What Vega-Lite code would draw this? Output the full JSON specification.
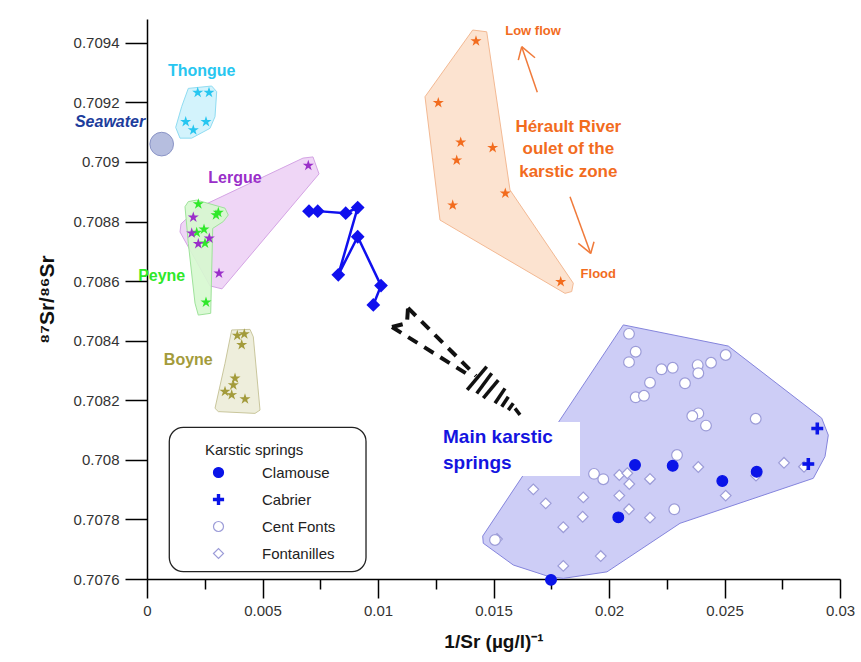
{
  "$schema": "https://vega.github.io/schema/vega-lite/v6.json",
  "width": 693,
  "height": 560,
  "autosize": {"type": "none"},
  "padding": {"left": 147, "top": 19, "right": 21, "bottom": 83},
  "background": "#ffffff",
  "config": {
    "view": {"stroke": null},
    "font": "Liberation Sans",
    "legend": {"orient": "none"}
  },
  "datasets": {
    "hulls": [
      {"g": "Thongue", "o": 0, "x": 0.001788, "y": 0.709247},
      {"g": "Thongue", "o": 1, "x": 0.002801, "y": 0.709255},
      {"g": "Thongue", "o": 2, "x": 0.003017, "y": 0.709236},
      {"g": "Thongue", "o": 3, "x": 0.002944, "y": 0.709152},
      {"g": "Thongue", "o": 4, "x": 0.002727, "y": 0.709113},
      {"g": "Thongue", "o": 5, "x": 0.001935, "y": 0.70908},
      {"g": "Thongue", "o": 6, "x": 0.001429, "y": 0.70908},
      {"g": "Thongue", "o": 7, "x": 0.001242, "y": 0.709116},
      {"g": "Thongue", "o": 8, "x": 0.001502, "y": 0.709186},
      {"g": "Lergue", "o": 0, "x": 0.002208, "y": 0.708846},
      {"g": "Lergue", "o": 1, "x": 0.006753, "y": 0.709013},
      {"g": "Lergue", "o": 2, "x": 0.007186, "y": 0.709017},
      {"g": "Lergue", "o": 3, "x": 0.007446, "y": 0.70896},
      {"g": "Lergue", "o": 4, "x": 0.003247, "y": 0.708574},
      {"g": "Lergue", "o": 5, "x": 0.002727, "y": 0.708584},
      {"g": "Lergue", "o": 6, "x": 0.001429, "y": 0.708765},
      {"g": "Lergue", "o": 7, "x": 0.001472, "y": 0.708792},
      {"g": "Peyne", "o": 0, "x": 0.001788, "y": 0.708867},
      {"g": "Peyne", "o": 1, "x": 0.002152, "y": 0.708872},
      {"g": "Peyne", "o": 2, "x": 0.003377, "y": 0.708845},
      {"g": "Peyne", "o": 3, "x": 0.003519, "y": 0.708822},
      {"g": "Peyne", "o": 4, "x": 0.003303, "y": 0.7088},
      {"g": "Peyne", "o": 5, "x": 0.002844, "y": 0.708777},
      {"g": "Peyne", "o": 6, "x": 0.002758, "y": 0.708492},
      {"g": "Peyne", "o": 7, "x": 0.002221, "y": 0.708486},
      {"g": "Peyne", "o": 8, "x": 0.002078, "y": 0.708526},
      {"g": "Peyne", "o": 9, "x": 0.001788, "y": 0.708727},
      {"g": "Peyne", "o": 10, "x": 0.001645, "y": 0.70885},
      {"g": "Boyne", "o": 0, "x": 0.003667, "y": 0.708436},
      {"g": "Boyne", "o": 1, "x": 0.004459, "y": 0.708438},
      {"g": "Boyne", "o": 2, "x": 0.004602, "y": 0.708413},
      {"g": "Boyne", "o": 3, "x": 0.004892, "y": 0.708167},
      {"g": "Boyne", "o": 4, "x": 0.004675, "y": 0.708156},
      {"g": "Boyne", "o": 5, "x": 0.003087, "y": 0.708162},
      {"g": "Boyne", "o": 6, "x": 0.002944, "y": 0.708173},
      {"g": "Boyne", "o": 7, "x": 0.003377, "y": 0.708324},
      {"g": "Herault", "o": 0, "x": 0.0141, "y": 0.709443},
      {"g": "Herault", "o": 1, "x": 0.014706, "y": 0.709437},
      {"g": "Herault", "o": 2, "x": 0.015714, "y": 0.708906},
      {"g": "Herault", "o": 3, "x": 0.018455, "y": 0.708593},
      {"g": "Herault", "o": 4, "x": 0.018385, "y": 0.708565},
      {"g": "Herault", "o": 5, "x": 0.018095, "y": 0.708559},
      {"g": "Herault", "o": 6, "x": 0.012684, "y": 0.708805},
      {"g": "Herault", "o": 7, "x": 0.012035, "y": 0.709219},
      {"g": "Main", "o": 0, "x": 0.020619, "y": 0.708453},
      {"g": "Main", "o": 1, "x": 0.025165, "y": 0.708382},
      {"g": "Main", "o": 2, "x": 0.029208, "y": 0.70814},
      {"g": "Main", "o": 3, "x": 0.029494, "y": 0.708083},
      {"g": "Main", "o": 4, "x": 0.029351, "y": 0.708011},
      {"g": "Main", "o": 5, "x": 0.028844, "y": 0.707938},
      {"g": "Main", "o": 6, "x": 0.023074, "y": 0.707787},
      {"g": "Main", "o": 7, "x": 0.019913, "y": 0.707624},
      {"g": "Main", "o": 8, "x": 0.018022, "y": 0.707602},
      {"g": "Main", "o": 9, "x": 0.017446, "y": 0.707607},
      {"g": "Main", "o": 10, "x": 0.015857, "y": 0.707647},
      {"g": "Main", "o": 11, "x": 0.014558, "y": 0.70772},
      {"g": "Main", "o": 12, "x": 0.014532, "y": 0.707744},
      {"g": "Main", "o": 13, "x": 0.017879, "y": 0.708134}
    ],
    "stars": [
      {"g": "Thongue", "x": 0.002195, "y": 0.709233},
      {"g": "Thongue", "x": 0.002684, "y": 0.709233},
      {"g": "Thongue", "x": 0.001675, "y": 0.709135},
      {"g": "Thongue", "x": 0.002554, "y": 0.709135},
      {"g": "Thongue", "x": 0.002004, "y": 0.709107},
      {"g": "Peyne", "x": 0.002221, "y": 0.708859},
      {"g": "Peyne", "x": 0.003087, "y": 0.70883},
      {"g": "Peyne", "x": 0.002987, "y": 0.708822},
      {"g": "Peyne", "x": 0.002468, "y": 0.708774},
      {"g": "Peyne", "x": 0.002152, "y": 0.708763},
      {"g": "Peyne", "x": 0.002511, "y": 0.708727},
      {"g": "Peyne", "x": 0.002554, "y": 0.708529},
      {"g": "Lergue", "x": 0.006983, "y": 0.708988},
      {"g": "Lergue", "x": 0.002004, "y": 0.708814},
      {"g": "Lergue", "x": 0.001935, "y": 0.708761},
      {"g": "Lergue", "x": 0.002221, "y": 0.708725},
      {"g": "Lergue", "x": 0.002697, "y": 0.708744},
      {"g": "Lergue", "x": 0.003117, "y": 0.708626},
      {"g": "Boyne", "x": 0.003909, "y": 0.708417},
      {"g": "Boyne", "x": 0.004212, "y": 0.708422},
      {"g": "Boyne", "x": 0.0041, "y": 0.708386},
      {"g": "Boyne", "x": 0.00381, "y": 0.708274},
      {"g": "Boyne", "x": 0.003736, "y": 0.708251},
      {"g": "Boyne", "x": 0.003377, "y": 0.708229},
      {"g": "Boyne", "x": 0.003667, "y": 0.708218},
      {"g": "Boyne", "x": 0.004242, "y": 0.708204},
      {"g": "Herault", "x": 0.014242, "y": 0.709406},
      {"g": "Herault", "x": 0.01261, "y": 0.709199},
      {"g": "Herault", "x": 0.01358, "y": 0.709066},
      {"g": "Herault", "x": 0.014965, "y": 0.709048},
      {"g": "Herault", "x": 0.013407, "y": 0.709006},
      {"g": "Herault", "x": 0.015511, "y": 0.708895},
      {"g": "Herault", "x": 0.013234, "y": 0.708855},
      {"g": "Herault", "x": 0.017909, "y": 0.708598}
    ],
    "track": [
      {"o": 0, "x": 0.007013, "y": 0.708835},
      {"o": 1, "x": 0.00739, "y": 0.708835},
      {"o": 2, "x": 0.008602, "y": 0.708828},
      {"o": 3, "x": 0.009121, "y": 0.708847},
      {"o": 4, "x": 0.008281, "y": 0.708621},
      {"o": 5, "x": 0.009121, "y": 0.708749},
      {"o": 6, "x": 0.01013, "y": 0.708585},
      {"o": 7, "x": 0.009797, "y": 0.70852}
    ],
    "springs": [
      {"s": "Fontanilles", "x": 0.020446, "y": 0.707949},
      {"s": "Fontanilles", "x": 0.020792, "y": 0.707955},
      {"s": "Fontanilles", "x": 0.020879, "y": 0.707919},
      {"s": "Fontanilles", "x": 0.021775, "y": 0.707936},
      {"s": "Fontanilles", "x": 0.016723, "y": 0.707901},
      {"s": "Fontanilles", "x": 0.01726, "y": 0.707854},
      {"s": "Fontanilles", "x": 0.018887, "y": 0.707874},
      {"s": "Fontanilles", "x": 0.020446, "y": 0.70788},
      {"s": "Fontanilles", "x": 0.020866, "y": 0.707834},
      {"s": "Fontanilles", "x": 0.018861, "y": 0.707809},
      {"s": "Fontanilles", "x": 0.021775, "y": 0.707806},
      {"s": "Fontanilles", "x": 0.018022, "y": 0.707774},
      {"s": "Fontanilles", "x": 0.015152, "y": 0.707734},
      {"s": "Fontanilles", "x": 0.019641, "y": 0.707677},
      {"s": "Fontanilles", "x": 0.018022, "y": 0.707644},
      {"s": "Fontanilles", "x": 0.023866, "y": 0.707976},
      {"s": "Fontanilles", "x": 0.025052, "y": 0.70788},
      {"s": "Fontanilles", "x": 0.026364, "y": 0.707947},
      {"s": "Fontanilles", "x": 0.027576, "y": 0.70799},
      {"s": "Fontanilles", "x": 0.028442, "y": 0.707977},
      {"s": "Cent Fonts", "x": 0.020866, "y": 0.708423},
      {"s": "Cent Fonts", "x": 0.021156, "y": 0.708363},
      {"s": "Cent Fonts", "x": 0.020866, "y": 0.708328},
      {"s": "Cent Fonts", "x": 0.022273, "y": 0.708304},
      {"s": "Cent Fonts", "x": 0.022758, "y": 0.708309},
      {"s": "Cent Fonts", "x": 0.021775, "y": 0.708259},
      {"s": "Cent Fonts", "x": 0.021156, "y": 0.70821},
      {"s": "Cent Fonts", "x": 0.021515, "y": 0.708215},
      {"s": "Cent Fonts", "x": 0.019351, "y": 0.707953},
      {"s": "Cent Fonts", "x": 0.019753, "y": 0.707935},
      {"s": "Cent Fonts", "x": 0.022944, "y": 0.708016},
      {"s": "Cent Fonts", "x": 0.022827, "y": 0.707834},
      {"s": "Cent Fonts", "x": 0.02384, "y": 0.708318},
      {"s": "Cent Fonts", "x": 0.023866, "y": 0.708291},
      {"s": "Cent Fonts", "x": 0.024416, "y": 0.708326},
      {"s": "Cent Fonts", "x": 0.025052, "y": 0.708352},
      {"s": "Cent Fonts", "x": 0.02329, "y": 0.708257},
      {"s": "Cent Fonts", "x": 0.023866, "y": 0.708156},
      {"s": "Cent Fonts", "x": 0.023606, "y": 0.708147},
      {"s": "Cent Fonts", "x": 0.024199, "y": 0.708115},
      {"s": "Cent Fonts", "x": 0.026351, "y": 0.708138},
      {"s": "Cent Fonts", "x": 0.015065, "y": 0.707731},
      {"s": "Clamouse", "x": 0.021126, "y": 0.707983},
      {"s": "Clamouse", "x": 0.022758, "y": 0.70798},
      {"s": "Clamouse", "x": 0.020403, "y": 0.707807},
      {"s": "Clamouse", "x": 0.024905, "y": 0.707929},
      {"s": "Clamouse", "x": 0.026394, "y": 0.70796},
      {"s": "Clamouse", "x": 0.017489, "y": 0.707597},
      {"s": "Cabrier", "x": 0.029017, "y": 0.708105},
      {"s": "Cabrier", "x": 0.028628, "y": 0.707986}
    ],
    "labels": [
      {"k": "grp", "g": "Thongue", "t": "Thongue", "x": 0.002368, "y": 0.709306},
      {"k": "grp", "g": "Lergue", "t": "Lergue", "x": 0.00381, "y": 0.708946},
      {"k": "grp", "g": "Peyne", "t": "Peyne", "x": 0.000636, "y": 0.708617},
      {"k": "grp", "g": "Boyne", "t": "Boyne", "x": 0.001788, "y": 0.708335},
      {"k": "her", "g": "Herault", "t": "Hérault River", "x": 0.018238, "y": 0.709118},
      {"k": "her", "g": "Herault", "t": "oulet of the", "x": 0.018238, "y": 0.709042},
      {"k": "her", "g": "Herault", "t": "karstic zone", "x": 0.018238, "y": 0.708966},
      {"k": "small", "g": "Herault", "t": "Low flow", "x": 0.01671, "y": 0.70944},
      {"k": "small", "g": "Herault", "t": "Flood", "x": 0.019537, "y": 0.708623}
    ],
    "sea": [
      {"t": "Seawater", "x": 0.000636, "y": 0.70906, "lx": -0.0016, "ly": 0.709134}
    ],
    "arrows": [
      {"x": 0.016896, "y": 0.709234, "x2": 0.016221, "y2": 0.709387},
      {"x": 0.016221, "y": 0.709387, "x2": 0.016074, "y2": 0.709342},
      {"x": 0.016221, "y": 0.709387, "x2": 0.016797, "y2": 0.70935},
      {"x": 0.018312, "y": 0.708883, "x2": 0.019208, "y2": 0.708693},
      {"x": 0.019208, "y": 0.708693, "x2": 0.018671, "y2": 0.708727},
      {"x": 0.019208, "y": 0.708693, "x2": 0.019351, "y2": 0.708732}
    ],
    "hatch": [
      {"x": 0.014706, "y": 0.708313, "x2": 0.013861, "y2": 0.708235},
      {"x": 0.014922, "y": 0.708291, "x2": 0.014273, "y2": 0.708223},
      {"x": 0.015208, "y": 0.708268, "x2": 0.014558, "y2": 0.708207},
      {"x": 0.015498, "y": 0.70824, "x2": 0.015065, "y2": 0.70819},
      {"x": 0.015641, "y": 0.708212, "x2": 0.015355, "y2": 0.708178},
      {"x": 0.015857, "y": 0.70819, "x2": 0.015641, "y2": 0.708167},
      {"x": 0.015931, "y": 0.708173, "x2": 0.016147, "y2": 0.708151}
    ],
    "dash": [
      {"seg": "up", "o": 0, "x": 0.011299, "y": 0.70851},
      {"seg": "up", "o": 1, "x": 0.014242, "y": 0.708282},
      {"seg": "low", "o": 0, "x": 0.010606, "y": 0.708446},
      {"seg": "low", "o": 1, "x": 0.013983, "y": 0.708282},
      {"seg": "tail", "o": 0, "x": 0.010606, "y": 0.708446},
      {"seg": "tail", "o": 1, "x": 0.011255, "y": 0.708459},
      {"seg": "tail", "o": 2, "x": 0.011299, "y": 0.70851}
    ],
    "boxes": [
      {"b": "legend", "x": 0.000965, "x2": 0.009481, "y": 0.708109, "y2": 0.707625},
      {"b": "main", "x": 0.012597, "x2": 0.018745, "y": 0.708127, "y2": 0.707946}
    ],
    "maintext": [
      {"t": "Main karstic", "x": 0.012814, "y": 0.708077},
      {"t": "springs", "x": 0.012814, "y": 0.707989}
    ]
  },
  "layer": [
    {
      "data": {"name": "hulls"},
      "transform": [{"filter": "datum.g == 'Thongue'"}],
      "mark": {"type": "line", "interpolate": "linear-closed", "fill": "#d3f3fc", "stroke": "#8fdcf2", "strokeWidth": 1},
      "encoding": {
        "x": {"field": "x", "type": "quantitative",
          "scale": {"domain": [0, 0.03], "nice": false, "zero": false},
          "axis": {
            "values": [0, 0.0025, 0.005, 0.0075, 0.01, 0.0125, 0.015, 0.0175, 0.02, 0.0225, 0.025, 0.0275, 0.03],
            "labelExpr": "round(datum.value*400)%2==0 ? format(datum.value, '.3~f') : ''",
            "tickSize": {"condition": {"test": "round(datum.value*400)%2==0", "value": 19}, "value": 10},
            "labelPadding": 5,
            "grid": false,
            "domainColor": "#000000", "domainWidth": 1.5,
            "tickColor": "#000000", "tickWidth": 1.5,
            "labelFont": "Liberation Sans", "labelFontSize": 15, "labelColor": "#333333",
            "labelFlush": false, "labelOverlap": false,
            "title": "1/Sr (µg/l)⁻¹",
            "titleFont": "Liberation Sans", "titleFontSize": 19, "titleFontWeight": "bold", "titleColor": "#111111",
            "titlePadding": 14
          }
        },
        "y": {"field": "y", "type": "quantitative",
          "scale": {"domain": [0.7076, 0.70948], "nice": false, "zero": false},
          "axis": {
            "values": [0.7076, 0.7077, 0.7078, 0.7079, 0.708, 0.7081, 0.7082, 0.7083, 0.7084, 0.7085, 0.7086, 0.7087, 0.7088, 0.7089, 0.709, 0.7091, 0.7092, 0.7093, 0.7094],
            "labelExpr": "round(datum.value*10000)%2==0 ? format(datum.value, '.4~f') : ''",
            "tickSize": {"condition": {"test": "round(datum.value*10000)%2==0", "value": 22}, "value": 10},
            "labelPadding": 6,
            "grid": false,
            "domainColor": "#000000", "domainWidth": 1.5,
            "tickColor": "#000000", "tickWidth": 1.5,
            "labelFont": "Liberation Sans", "labelFontSize": 15, "labelColor": "#333333",
            "labelFlush": false, "labelOverlap": false,
            "title": "⁸⁷Sr/⁸⁶Sr",
            "titleFont": "Liberation Sans", "titleFontSize": 21, "titleFontWeight": "bold", "titleColor": "#111111",
            "titlePadding": 16
          }
        },
        "order": {"field": "o", "type": "quantitative"}
      }
    },
    {
      "data": {"name": "hulls"},
      "transform": [{"filter": "datum.g == 'Lergue'"}],
      "mark": {"type": "line", "interpolate": "linear-closed", "fill": "#efd6f6", "stroke": "#d4a4e4", "strokeWidth": 1},
      "encoding": {
        "x": {"field": "x", "type": "quantitative"},
        "y": {"field": "y", "type": "quantitative"},
        "order": {"field": "o", "type": "quantitative"}
      }
    },
    {
      "data": {"name": "hulls"},
      "transform": [{"filter": "datum.g == 'Peyne'"}],
      "mark": {"type": "line", "interpolate": "linear-closed", "fill": "#d6f8cf", "fillOpacity": 0.9, "stroke": "#9ee29a", "strokeWidth": 1},
      "encoding": {
        "x": {"field": "x", "type": "quantitative"},
        "y": {"field": "y", "type": "quantitative"},
        "order": {"field": "o", "type": "quantitative"}
      }
    },
    {
      "data": {"name": "hulls"},
      "transform": [{"filter": "datum.g == 'Boyne'"}],
      "mark": {"type": "line", "interpolate": "linear-closed", "fill": "#eeeedc", "stroke": "#c9c69c", "strokeWidth": 1},
      "encoding": {
        "x": {"field": "x", "type": "quantitative"},
        "y": {"field": "y", "type": "quantitative"},
        "order": {"field": "o", "type": "quantitative"}
      }
    },
    {
      "data": {"name": "hulls"},
      "transform": [{"filter": "datum.g == 'Herault'"}],
      "mark": {"type": "line", "interpolate": "linear-closed", "fill": "#fce3d0", "stroke": "#f3b993", "strokeWidth": 1},
      "encoding": {
        "x": {"field": "x", "type": "quantitative"},
        "y": {"field": "y", "type": "quantitative"},
        "order": {"field": "o", "type": "quantitative"}
      }
    },
    {
      "data": {"name": "hulls"},
      "transform": [{"filter": "datum.g == 'Main'"}],
      "mark": {"type": "line", "interpolate": "linear-closed", "fill": "#cdcdf6", "stroke": "#8484dc", "strokeWidth": 1},
      "encoding": {
        "x": {"field": "x", "type": "quantitative"},
        "y": {"field": "y", "type": "quantitative"},
        "order": {"field": "o", "type": "quantitative"}
      }
    },
    {
      "data": {"name": "boxes"},
      "transform": [{"filter": "datum.b == 'legend'"}],
      "mark": {"type": "rect", "fill": "#ffffff", "stroke": "#222222", "strokeWidth": 1.3, "cornerRadius": 14},
      "encoding": {
        "x": {"field": "x", "type": "quantitative"},
        "x2": {"field": "x2"},
        "y": {"field": "y", "type": "quantitative"},
        "y2": {"field": "y2"}
      }
    },
    {
      "data": {"name": "boxes"},
      "transform": [{"filter": "datum.b == 'main'"}],
      "mark": {"type": "rect", "fill": "#ffffff", "stroke": null},
      "encoding": {
        "x": {"field": "x", "type": "quantitative"},
        "x2": {"field": "x2"},
        "y": {"field": "y", "type": "quantitative"},
        "y2": {"field": "y2"}
      }
    },
    {
      "data": {"name": "sea"},
      "mark": {"type": "point", "shape": "circle", "size": 560, "filled": true, "fill": "#b6bedf", "stroke": "#8a94c6", "strokeWidth": 1, "opacity": 1},
      "encoding": {
        "x": {"field": "x", "type": "quantitative"},
        "y": {"field": "y", "type": "quantitative"}
      }
    },
    {
      "data": {"name": "stars"},
      "mark": {"type": "point", "filled": true, "opacity": 1, "size": 135, "strokeWidth": 0,
        "shape": "M0,-1L0.223,-0.307L0.951,-0.309L0.361,0.117L0.588,0.809L0,0.38L-0.588,0.809L-0.361,0.117L-0.951,-0.309L-0.223,-0.307Z"},
      "encoding": {
        "x": {"field": "x", "type": "quantitative"},
        "y": {"field": "y", "type": "quantitative"},
        "color": {"field": "g", "type": "nominal",
          "scale": {"domain": ["Thongue", "Lergue", "Peyne", "Boyne", "Herault"], "range": ["#27c6f0", "#9a2fc9", "#2fe82a", "#a39b3b", "#f26c1e"]},
          "legend": null}
      }
    },
    {
      "data": {"name": "track"},
      "mark": {"type": "line", "color": "#1010ee", "strokeWidth": 2.5},
      "encoding": {
        "x": {"field": "x", "type": "quantitative"},
        "y": {"field": "y", "type": "quantitative"},
        "order": {"field": "o", "type": "quantitative"}
      }
    },
    {
      "data": {"name": "track"},
      "mark": {"type": "point", "shape": "diamond", "filled": true, "color": "#1010ee", "opacity": 1, "size": 190},
      "encoding": {
        "x": {"field": "x", "type": "quantitative"},
        "y": {"field": "y", "type": "quantitative"}
      }
    },
    {
      "data": {"name": "dash"},
      "mark": {"type": "line", "color": "#111111", "strokeWidth": 4, "strokeDash": [11, 8]},
      "encoding": {
        "x": {"field": "x", "type": "quantitative"},
        "y": {"field": "y", "type": "quantitative"},
        "detail": {"field": "seg", "type": "nominal"},
        "order": {"field": "o", "type": "quantitative"}
      }
    },
    {
      "data": {"name": "hatch"},
      "mark": {"type": "rule", "color": "#111111", "strokeWidth": 3.5},
      "encoding": {
        "x": {"field": "x", "type": "quantitative"},
        "y": {"field": "y", "type": "quantitative"},
        "x2": {"field": "x2"},
        "y2": {"field": "y2"}
      }
    },
    {
      "data": {"name": "arrows"},
      "mark": {"type": "rule", "color": "#f07a3a", "strokeWidth": 1.5},
      "encoding": {
        "x": {"field": "x", "type": "quantitative"},
        "y": {"field": "y", "type": "quantitative"},
        "x2": {"field": "x2"},
        "y2": {"field": "y2"}
      }
    },
    {
      "data": {"name": "springs"},
      "mark": {"type": "point", "size": 115, "strokeWidth": 1.2, "opacity": 1},
      "encoding": {
        "x": {"field": "x", "type": "quantitative"},
        "y": {"field": "y", "type": "quantitative"},
        "shape": {"field": "s", "type": "nominal",
          "scale": {"domain": ["Clamouse", "Cabrier", "Cent Fonts", "Fontanilles"],
            "range": ["circle", "M-0.22,-1H0.22V-0.22H1V0.22H0.22V1H-0.22V0.22H-1V-0.22H-0.22Z", "circle", "diamond"]},
          "legend": {"title": "Karstic springs", "orient": "none", "legendX": 58, "legendY": 424,
            "titleFont": "Liberation Sans", "titleFontSize": 15, "titleFontWeight": "normal", "titleColor": "#222222", "titlePadding": 7,
            "labelFont": "Liberation Sans", "labelFontSize": 15, "labelColor": "#222222", "labelOffset": 36,
            "symbolOffset": 6, "rowPadding": 11, "padding": 0, "symbolStrokeWidth": 1.2}
        },
        "fill": {"field": "s", "type": "nominal",
          "scale": {"domain": ["Clamouse", "Cabrier", "Cent Fonts", "Fontanilles"], "range": ["#0a14e8", "#0a14e8", "#ffffff", "#ffffff"]},
          "legend": {"title": "Karstic springs", "orient": "none", "legendX": 58, "legendY": 424,
            "titleFont": "Liberation Sans", "titleFontSize": 15, "titleFontWeight": "normal", "titleColor": "#222222", "titlePadding": 7,
            "labelFont": "Liberation Sans", "labelFontSize": 15, "labelColor": "#222222", "labelOffset": 36,
            "symbolOffset": 6, "rowPadding": 11, "padding": 0, "symbolStrokeWidth": 1.2}
        },
        "stroke": {"field": "s", "type": "nominal",
          "scale": {"domain": ["Clamouse", "Cabrier", "Cent Fonts", "Fontanilles"], "range": ["#0a14e8", "#0a14e8", "#9c9cd8", "#9c9cd8"]},
          "legend": {"title": "Karstic springs", "orient": "none", "legendX": 58, "legendY": 424,
            "titleFont": "Liberation Sans", "titleFontSize": 15, "titleFontWeight": "normal", "titleColor": "#222222", "titlePadding": 7,
            "labelFont": "Liberation Sans", "labelFontSize": 15, "labelColor": "#222222", "labelOffset": 36,
            "symbolOffset": 6, "rowPadding": 11, "padding": 0, "symbolStrokeWidth": 1.2}
        }
      }
    },
    {
      "data": {"name": "labels"},
      "transform": [{"filter": "datum.k == 'grp'"}],
      "mark": {"type": "text", "font": "Liberation Sans", "fontSize": 16, "fontWeight": "bold", "align": "center", "baseline": "middle"},
      "encoding": {
        "x": {"field": "x", "type": "quantitative"},
        "y": {"field": "y", "type": "quantitative"},
        "text": {"field": "t", "type": "nominal"},
        "color": {"field": "g", "type": "nominal", "legend": null}
      }
    },
    {
      "data": {"name": "labels"},
      "transform": [{"filter": "datum.k == 'her'"}],
      "mark": {"type": "text", "font": "Liberation Sans", "fontSize": 17, "fontWeight": "bold", "align": "center", "baseline": "middle"},
      "encoding": {
        "x": {"field": "x", "type": "quantitative"},
        "y": {"field": "y", "type": "quantitative"},
        "text": {"field": "t", "type": "nominal"},
        "color": {"field": "g", "type": "nominal", "legend": null}
      }
    },
    {
      "data": {"name": "labels"},
      "transform": [{"filter": "datum.k == 'small'"}],
      "mark": {"type": "text", "font": "Liberation Sans", "fontSize": 13, "fontWeight": "bold", "align": "center", "baseline": "middle"},
      "encoding": {
        "x": {"field": "x", "type": "quantitative"},
        "y": {"field": "y", "type": "quantitative"},
        "text": {"field": "t", "type": "nominal"},
        "color": {"field": "g", "type": "nominal", "legend": null}
      }
    },
    {
      "data": {"name": "sea"},
      "mark": {"type": "text", "font": "Liberation Sans", "fontSize": 16, "fontWeight": "bold", "fontStyle": "italic", "align": "center", "baseline": "middle", "color": "#1d3d9c"},
      "encoding": {
        "x": {"field": "lx", "type": "quantitative"},
        "y": {"field": "ly", "type": "quantitative"},
        "text": {"field": "t", "type": "nominal"}
      }
    },
    {
      "data": {"name": "maintext"},
      "mark": {"type": "text", "font": "Liberation Sans", "fontSize": 19, "fontWeight": "bold", "align": "left", "baseline": "middle", "color": "#1414e0"},
      "encoding": {
        "x": {"field": "x", "type": "quantitative"},
        "y": {"field": "y", "type": "quantitative"},
        "text": {"field": "t", "type": "nominal"}
      }
    }
  ]
}
